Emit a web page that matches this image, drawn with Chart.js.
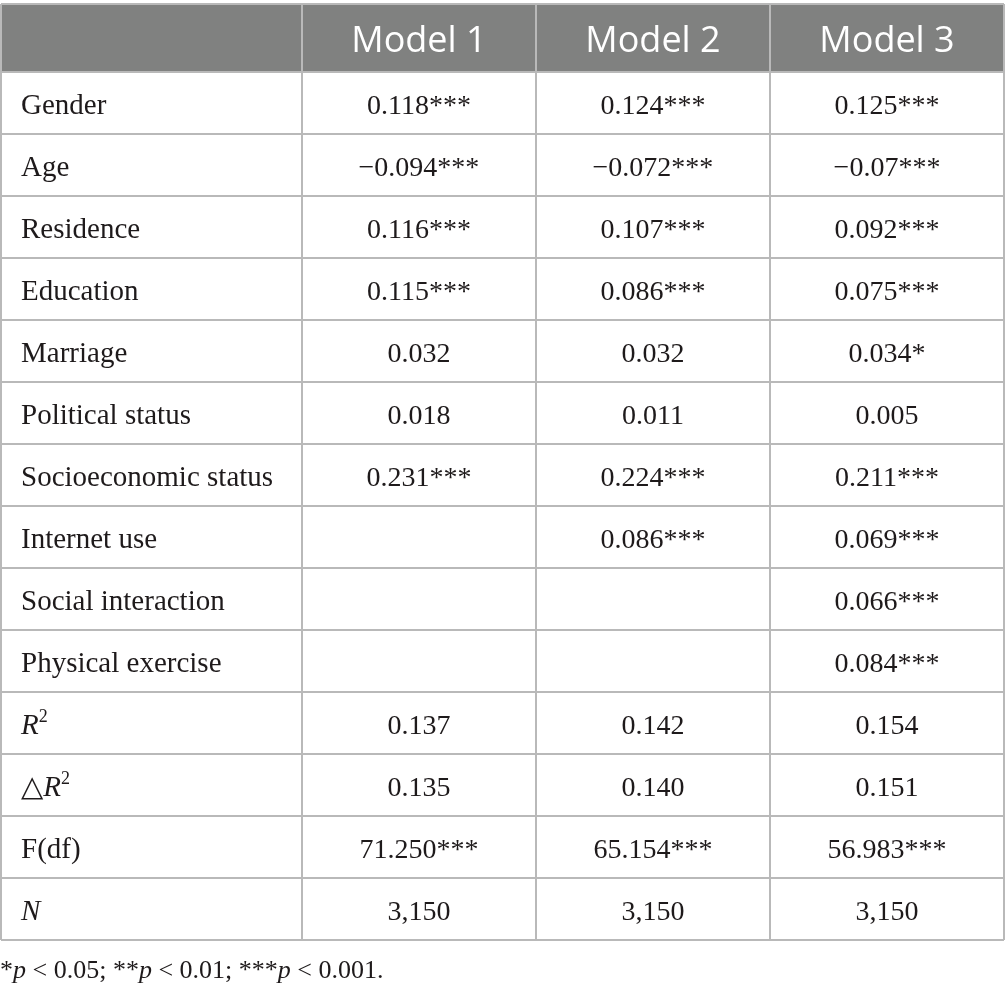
<!DOCTYPE html>
<html>
<head>
<meta charset="utf-8">
<script src="https://cdn.jsdelivr.net/npm/chart.js@4.4.1/dist/chart.umd.min.js"></script>
<style>
  body { margin: 0; background: #fff; }
  #wrap { width: 1005px; height: 994px; }
</style>
</head>
<body>
<div id="wrap"><canvas id="myChart"></canvas></div>
<script>
// table content
const models = ['Model 1', 'Model 2', 'Model 3'];
const rowLabels = ['Gender', 'Age', 'Residence', 'Education', 'Marriage', 'Political status',
  'Socioeconomic status', 'Internet use', 'Social interaction', 'Physical exercise',
  '<i>R</i><sup>2</sup>', '\u25B3<i>R</i><sup>2</sup>', 'F(df)', '<i>N</i>'];
const model1 = ['0.118***', '\u22120.094***', '0.116***', '0.115***', '0.032', '0.018', '0.231***',
  '', '', '', '0.137', '0.135', '71.250***', '3,150'];
const model2 = ['0.124***', '\u22120.072***', '0.107***', '0.086***', '0.032', '0.011', '0.224***',
  '0.086***', '', '', '0.142', '0.140', '65.154***', '3,150'];
const model3 = ['0.125***', '\u22120.07***', '0.092***', '0.075***', '0.034*', '0.005', '0.211***',
  '0.069***', '0.066***', '0.084***', '0.154', '0.151', '56.983***', '3,150'];
const footnote = '*<i>p</i> &lt; 0.05; **<i>p</i> &lt; 0.01; ***<i>p</i> &lt; 0.001.';

// layout (in model-column / row units)
const firstCol = 1.286;
const headRows = 1.097;
const serif = '"Liberation Serif", "DejaVu Serif", serif';

function cells(texts, x) {
  const out = [];
  texts.forEach((t, i) => { if (t) out.push({ x: x, y: i + 0.5, t: t }); });
  return out;
}

function drawRich(ctx, str, x, y, size, align) {
  const parts = [];
  const re = /<(i|sup)>(.*?)<\/\1>|([^<]+)/g;
  let m;
  while ((m = re.exec(str)) !== null) {
    const raw = (m[2] !== undefined ? m[2] : m[3]).replace(/&lt;/g, '<');
    parts.push({ text: raw, kind: m[1] || 'n' });
  }
  const fontFor = k => k === 'i' ? 'italic ' + size + 'px ' + serif
    : k === 'sup' ? Math.round(size * 0.62) + 'px ' + serif : size + 'px ' + serif;
  let total = 0;
  parts.forEach(p => { ctx.font = fontFor(p.kind); p.w = ctx.measureText(p.text).width; total += p.w; });
  let cx = align === 'center' ? x - total / 2 : x;
  ctx.textAlign = 'left';
  ctx.textBaseline = 'alphabetic';
  parts.forEach(p => {
    ctx.font = fontFor(p.kind);
    ctx.fillText(p.text, cx, p.kind === 'sup' ? y - size * 0.4 : y);
    cx += p.w;
  });
}

const tablePlugin = {
  id: 'tableCells',
  beforeDraw(chart) {
    const { ctx, chartArea, scales } = chart;
    const top = scales.y.getPixelForValue(-headRows);
    const bottom = scales.y.getPixelForValue(0);
    ctx.save();
    ctx.fillStyle = '#808180';
    ctx.fillRect(chartArea.left, top, chartArea.right - chartArea.left, bottom - top);
    ctx.restore();
  },
  afterDatasetsDraw(chart) {
    const { ctx, scales } = chart;
    ctx.save();
    // header
    const hy = scales.y.getPixelForValue(-headRows / 2) + 14;
    ctx.fillStyle = '#ffffff';
    ctx.font = '36px "Open Sans", sans-serif';
    ctx.textAlign = 'center';
    ctx.textBaseline = 'alphabetic';
    models.forEach((name, i) => {
      ctx.fillText(name, scales.x.getPixelForValue(firstCol + i + 0.5), hy);
    });
    // body cells
    ctx.fillStyle = '#1e1a1b';
    chart.data.datasets.forEach((ds, di) => {
      const meta = chart.getDatasetMeta(di);
      meta.data.forEach((pt, i) => {
        const left = ds.align === 'left';
        drawRich(ctx, ds.data[i].t, left ? pt.x + 20 : pt.x, pt.y + 11, left ? 29 : 28, ds.align);
      });
    });
    // footnote
    drawRich(ctx, footnote, 0, scales.y.getPixelForValue(rowLabels.length) + 38, 26, 'left');
    ctx.restore();
  }
};

const gridOpts = { color: '#b9b9b9', lineWidth: 2, drawTicks: false };

const ctx = document.getElementById('myChart').getContext('2d');
const chart = new Chart(ctx, {
  type: 'scatter',
  data: {
    datasets: [
      { label: 'Variable', data: cells(rowLabels, 0), align: 'left', pointRadius: 0 },
      { label: models[0], data: cells(model1, firstCol + 0.5), align: 'center', pointRadius: 0 },
      { label: models[1], data: cells(model2, firstCol + 1.5), align: 'center', pointRadius: 0 },
      { label: models[2], data: cells(model3, firstCol + 2.5), align: 'center', pointRadius: 0 }
    ]
  },
  options: {
    responsive: true,
    maintainAspectRatio: false,
    animation: false,
    layout: { padding: { top: 4, bottom: 54, left: 1, right: 1 } },
    plugins: { legend: { display: false }, tooltip: { enabled: false } },
    scales: {
      x: {
        type: 'linear', min: 0, max: firstCol + 3,
        ticks: { display: false }, grid: gridOpts, border: { display: false },
        afterBuildTicks: s => {
          s.ticks = [0, firstCol, firstCol + 1, firstCol + 2, firstCol + 3].map(v => ({ value: v }));
        }
      },
      y: {
        type: 'linear', reverse: true, min: -headRows, max: rowLabels.length,
        ticks: { display: false }, grid: gridOpts, border: { display: false },
        afterBuildTicks: s => {
          s.ticks = [{ value: -headRows }].concat(rowLabels.map((_, i) => ({ value: i + 1 })), [{ value: 0 }]);
        }
      }
    }
  },
  plugins: [tablePlugin]
});
</script>
</body>
</html>
